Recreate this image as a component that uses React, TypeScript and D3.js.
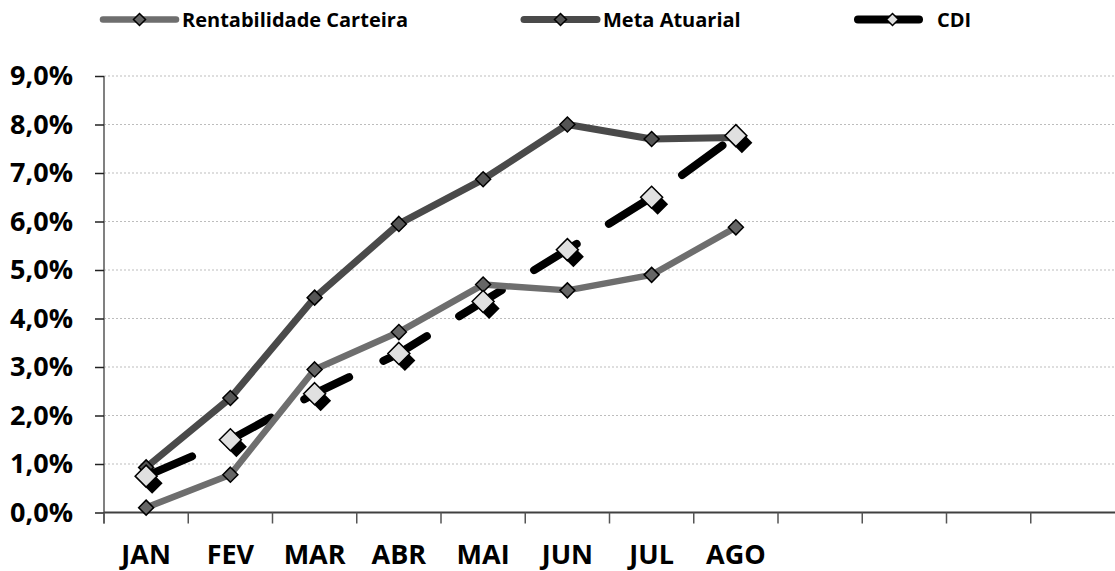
import * as d3 from "d3";
import { useEffect, useRef } from "react";

// months on the axis (only the first 8 are labelled in the original)
const tickLabels = ["JAN", "FEV", "MAR", "ABR", "MAI", "JUN", "JUL", "AGO", "", "", "", ""];
const yTicks = [0, 1, 2, 3, 4, 5, 6, 7, 8, 9];

const rentabilidade = [0.1, 0.78, 2.95, 3.72, 4.7, 4.58, 4.9, 5.88];
const metaAtuarial = [0.93, 2.36, 4.43, 5.95, 6.87, 8.0, 7.7, 7.73];
const cdi = [0.75, 1.5, 2.45, 3.28, 4.35, 5.42, 6.5, 7.77];

const seriesNames = ["Rentabilidade Carteira", "Meta Atuarial", "CDI"];

const App = () => {
  const svgRef = useRef(null);
  const width = 1115;
  const height = 571;

  useEffect(() => {
    const svg = d3.select(svgRef.current);
    svg.selectAll("*").remove();

    const font = "'Open Sans', Lato, sans-serif";
    const left = 104;
    const right = 1115;
    const top = 76;
    const bottom = 512.5;

    const x = d3
      .scaleBand<number>()
      .domain(d3.range(tickLabels.length))
      .range([left, right])
      .padding(0);
    const cx = (i: number) => (x(i) as number) + x.bandwidth() / 2;

    const y = d3.scaleLinear().domain([0, 9]).range([bottom, top]);

    // gridlines
    svg
      .append("g")
      .selectAll("line")
      .data(yTicks.filter((t) => t > 0))
      .join("line")
      .attr("x1", left)
      .attr("x2", right)
      .attr("y1", (d) => y(d))
      .attr("y2", (d) => y(d))
      .attr("stroke", "#bdbdbd")
      .attr("stroke-width", 1)
      .attr("stroke-dasharray", "2,2");

    // y axis
    const yAxis = svg
      .append("g")
      .attr("transform", `translate(${left},0)`)
      .call(
        d3
          .axisLeft(y)
          .tickValues(yTicks)
          .tickSize(9)
          .tickPadding(22)
          .tickFormat((d) => d3.format(".1f")(d as number).replace(".", ",") + "%")
      );
    yAxis.select(".domain").attr("stroke", "#808080").attr("stroke-width", 2).attr("d", `M0,${top}V${bottom + 11}`);
    yAxis.selectAll(".tick line").attr("stroke", "#222").attr("stroke-width", 1.5);
    yAxis
      .selectAll(".tick text")
      .attr("fill", "#000")
      .style("font-family", font)
      .style("font-weight", "bold")
      .style("font-size", "27px");

    // x axis
    const xAxis = svg.append("g").attr("transform", `translate(0,${bottom})`);
    xAxis
      .append("line")
      .attr("x1", left)
      .attr("x2", right)
      .attr("stroke", "#404040")
      .attr("stroke-width", 2);
    xAxis
      .selectAll("line.tick")
      .data(d3.range(tickLabels.length))
      .join("line")
      .attr("class", "tick")
      .attr("x1", (i) => x(i) as number)
      .attr("x2", (i) => x(i) as number)
      .attr("y1", 0)
      .attr("y2", 11)
      .attr("stroke", "#555")
      .attr("stroke-width", 1.5);
    xAxis
      .selectAll("text")
      .data(tickLabels)
      .join("text")
      .attr("x", (_, i) => cx(i))
      .attr("y", 51)
      .attr("text-anchor", "middle")
      .attr("fill", "#000")
      .style("font-family", font)
      .style("font-weight", "bold")
      .style("font-size", "27px")
      .text((d) => d);

    const line = d3
      .line<number>()
      .x((_, i) => cx(i))
      .y((d) => y(d));

    // lines
    svg
      .append("path")
      .datum(cdi)
      .attr("d", line)
      .attr("fill", "none")
      .attr("stroke", "#000")
      .attr("stroke-width", 8)
      .attr("stroke-linecap", "round")
      .attr("stroke-dasharray", "50,38");
    svg
      .append("path")
      .datum(metaAtuarial)
      .attr("d", line)
      .attr("fill", "none")
      .attr("stroke", "#4a4a4a")
      .attr("stroke-width", 7)
      .attr("stroke-linejoin", "round");
    svg
      .append("path")
      .datum(rentabilidade)
      .attr("d", line)
      .attr("fill", "none")
      .attr("stroke", "#6e6e6e")
      .attr("stroke-width", 6.5)
      .attr("stroke-linejoin", "round");

    const diamond = (r: number) => `M0,${-r}L${r},0L0,${r}L${-r},0Z`;

    // markers
    const small = (data: number[], fill: string) =>
      svg
        .append("g")
        .selectAll("path")
        .data(data)
        .join("path")
        .attr("transform", (d, i) => `translate(${cx(i)},${y(d)})`)
        .attr("d", diamond(7.5))
        .attr("fill", fill)
        .attr("stroke", "#000")
        .attr("stroke-width", 1.5);
    small(rentabilidade, "#666");
    small(metaAtuarial, "#555");

    const cdiG = svg.append("g");
    cdiG
      .selectAll("path.shadow")
      .data(cdi)
      .join("path")
      .attr("class", "shadow")
      .attr("transform", (d, i) => `translate(${cx(i) + 6},${y(d) + 7})`)
      .attr("d", diamond(10.5))
      .attr("fill", "#000");
    cdiG
      .selectAll("path.mark")
      .data(cdi)
      .join("path")
      .attr("class", "mark")
      .attr("transform", (d, i) => `translate(${cx(i)},${y(d)})`)
      .attr("d", diamond(11))
      .attr("fill", "#e0e0e0")
      .attr("stroke", "#000")
      .attr("stroke-width", 1.5);

    // legend
    const legendItems = [
      { name: seriesNames[0], x0: 103, x1: 176, color: "#6e6e6e", w: 6.5, mfill: "#666", r: 6, gap: 6 },
      { name: seriesNames[1], x0: 524, x1: 597, color: "#4a4a4a", w: 7, mfill: "#555", r: 6, gap: 6 },
      { name: seriesNames[2], x0: 858, x1: 919, color: "#000", w: 8, mfill: "#e0e0e0", r: 6, gap: 18 },
    ];
    const ly = 19.5;
    const lg = svg.append("g");
    legendItems.forEach((it) => {
      lg.append("line")
        .attr("x1", it.x0)
        .attr("x2", it.x1)
        .attr("y1", ly)
        .attr("y2", ly)
        .attr("stroke", it.color)
        .attr("stroke-width", it.w)
        .attr("stroke-linecap", "round");
      lg.append("path")
        .attr("transform", `translate(${(it.x0 + it.x1) / 2 + (it.name === "CDI" ? 4 : 0)},${ly})`)
        .attr("d", diamond(it.r))
        .attr("fill", it.mfill)
        .attr("stroke", "#000")
        .attr("stroke-width", 1.5);
      lg.append("text")
        .attr("x", it.x1 + it.gap)
        .attr("y", ly + 7)
        .attr("fill", "#000")
        .style("font-family", font)
        .style("font-weight", "bold")
        .style("font-size", "20px")
        .text(it.name);
    });
  }, []);

  return (
    <div style={{ position: "absolute", left: 0, top: 0 }}>
      <svg width={width} height={height} ref={svgRef} style={{ display: "block", background: "#fff" }} />
    </div>
  );
};

export default App;
